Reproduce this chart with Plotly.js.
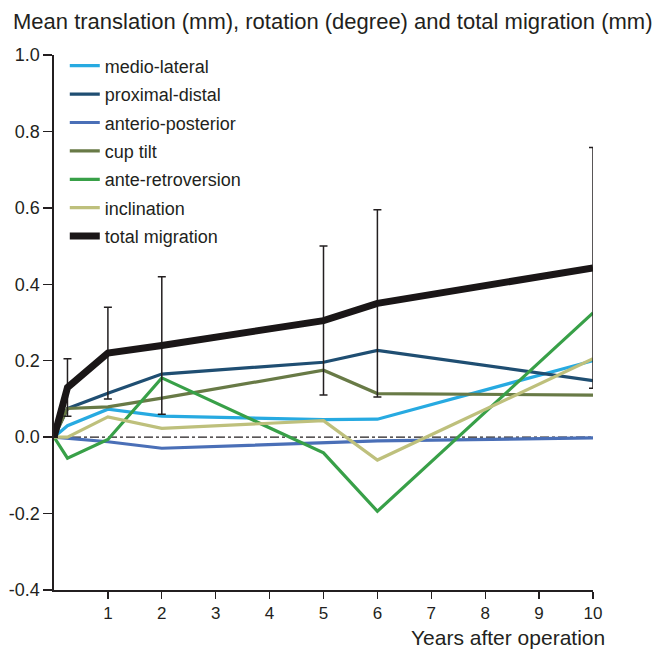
<!DOCTYPE html>
<html>
<head>
<meta charset="utf-8">
<script src="https://cdn.plot.ly/plotly-3.0.1.min.js"></script>
<style>html,body{margin:0;padding:0;background:#fff;}#chart{width:664px;height:650px;}</style>
</head>
<body>
<div id="chart"></div>
<script>
// Years after operation (first follow-up ~3 months)
const years = [0, 0.25, 1, 2, 5, 6, 10];
const medioLateral     = [0, 0.030, 0.073, 0.055, 0.046, 0.047, 0.200];
const proximalDistal   = [0, 0.075, 0.115, 0.165, 0.196, 0.227, 0.148];
const anterioPosterior = [0, -0.003, -0.012, -0.029, -0.016, -0.010, -0.002];
const cupTilt          = [0, 0.075, 0.079, 0.102, 0.175, 0.114, 0.110];
const anteRetroversion = [0, -0.055, -0.006, 0.155, -0.041, -0.194, 0.325];
const inclination      = [0, 0.000, 0.053, 0.023, 0.043, -0.060, 0.205];
const totalMigration   = [0, 0.130, 0.220, 0.240, 0.305, 0.350, 0.443];
const totalMigrationSD = [0, 0.075, 0.120, 0.180, 0.195, 0.245, 0.315];
const zeroX = [0, 10];
const zeroY = [0, 0];
const xTicks = [1, 2, 3, 4, 5, 6, 7, 8, 9, 10];
const yTicks = [-0.4, -0.2, 0.0, 0.2, 0.4, 0.6, 0.8, 1.0];

const series = [
  {name: 'medio-lateral', y: medioLateral, color: '#27aae1'},
  {name: 'proximal-distal', y: proximalDistal, color: '#1f4e72'},
  {name: 'anterio-posterior', y: anterioPosterior, color: '#4a6fb7'},
  {name: 'cup tilt', y: cupTilt, color: '#687a46'},
  {name: 'ante-retroversion', y: anteRetroversion, color: '#38a048'},
  {name: 'inclination', y: inclination, color: '#bec07c'}
];

const FONT = 'Liberation Sans, Arial, Helvetica, sans-serif';
const INK = '#231f20';

const traces = [{
  x: zeroX, y: zeroY, mode: 'lines', showlegend: false, hoverinfo: 'skip',
  line: {color: INK, width: 1.2, dash: 'dashdot'}
}];
series.forEach((s, i) => {
  traces.push({
    x: years, y: s.y, name: s.name, mode: 'lines', legendgroup: 'g' + i,
    line: {color: s.color, width: 3.2}
  });
});
traces.push({
  x: years, y: totalMigration, name: 'total migration', mode: 'lines', legendgroup: 'g7',
  line: {color: '#1a1617', width: 7},
  error_y: {type: 'data', array: totalMigrationSD, visible: true, color: INK, thickness: 1.5, width: 4}
});

const layout = {
  width: 664, height: 650,
  margin: {l: 54, r: 71, t: 55, b: 60},
  paper_bgcolor: '#fff', plot_bgcolor: '#fff',
  font: {family: FONT, color: INK, size: 17},
  title: {
    text: 'Mean translation (mm), rotation (degree) and total migration (mm)',
    x: 13 / 664, xanchor: 'left', xref: 'container',
    y: 1 - 21 / 650, yref: 'container', yanchor: 'middle',
    font: {family: FONT, size: 22, color: INK}
  },
  xaxis: {
    range: [0, 10], tickvals: xTicks, ticktext: xTicks.map(String),
    ticks: 'outside', ticklen: 7, tickwidth: 1.3, tickcolor: INK,
    showline: true, linecolor: INK, linewidth: 1.6, showgrid: false, zeroline: false,
    tickfont: {family: FONT, size: 17, color: INK}
  },
  yaxis: {
    range: [-0.4, 1.0], tickvals: yTicks, ticktext: yTicks.map(v => v.toFixed(1)),
    ticks: 'outside', ticklen: 9, tickwidth: 1.3, tickcolor: INK,
    showline: true, linecolor: INK, linewidth: 1.6, showgrid: false, zeroline: false,
    tickfont: {family: FONT, size: 18, color: INK}
  },
  legend: {
    x: 0.02, xanchor: 'left', y: 1.014, yanchor: 'top',
    bgcolor: 'rgba(0,0,0,0)', tracegroupgap: 2,
    font: {family: FONT, size: 18, color: INK}
  },
  annotations: [{
    text: 'Years after operation', xref: 'paper', yref: 'paper',
    x: 1.026, xanchor: 'right', y: -0.088, yanchor: 'middle',
    showarrow: false, font: {family: FONT, size: 21, color: INK}
  }]
};

Plotly.newPlot('chart', traces, layout, {displayModeBar: false, staticPlot: true});
</script>
</body>
</html>
